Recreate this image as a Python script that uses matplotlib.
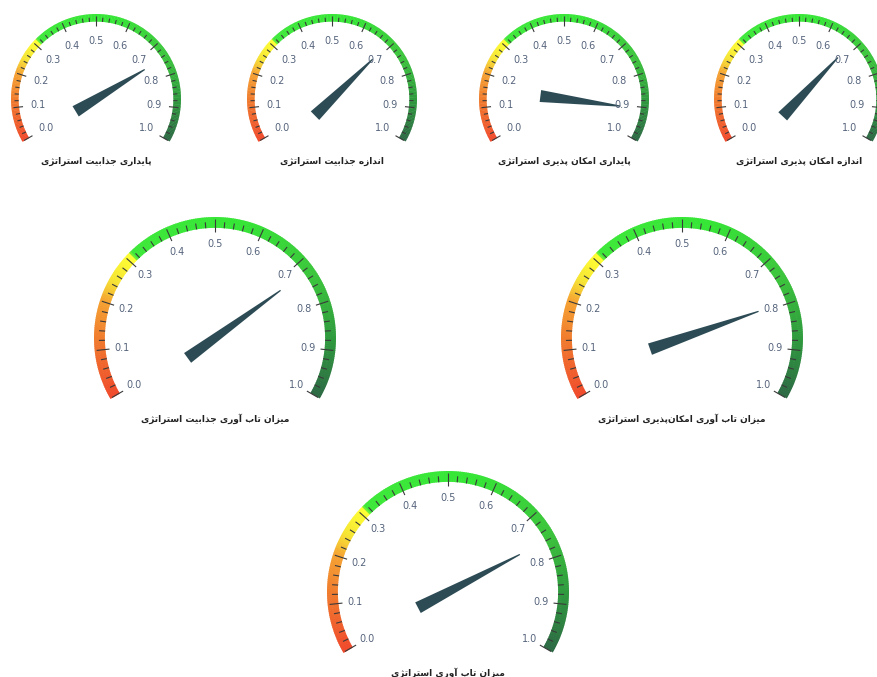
import numpy as np
import matplotlib
matplotlib.use("Agg")
import matplotlib.pyplot as plt
from matplotlib.patches import Wedge, Polygon
from matplotlib.colors import LinearSegmentedColormap

# Gauge data
titles = [
    "پایداری جذابیت استراتژی",
    "اندازه جذابیت استراتژی",
    "پایداری امکان پذیری استراتژی",
    "اندازه امکان پذیری استراتژی",
    "میزان تاب آوری جذابیت استراتژی",
    "میزان تاب آوری امکان\u200cپذیری استراتژی",
    "میزان تاب آوری استراتژی",
]
values = [0.745, 0.69, 0.905, 0.68, 0.725, 0.795, 0.76]
tick_values = [0.0, 0.1, 0.2, 0.3, 0.4, 0.5, 0.6, 0.7, 0.8, 0.9, 1.0]

# layout in pixels (x, y from top, outer radius)
W, H = 878, 677
layout = [
    (96, 99, 85), (332, 99, 85), (564, 99, 85), (799, 99, 85),
    (215, 338, 121), (682, 338, 121),
    (448, 592, 121),
]

# Persian letter shaping (matplotlib has no text shaping)
forms = {
    "ا": (0xFE8D, 0xFE8E, None, None),
    "آ": (0xFE81, 0xFE82, None, None),
    "ب": (0xFE8F, 0xFE90, 0xFE91, 0xFE92),
    "پ": (0xFB56, 0xFB57, 0xFB58, 0xFB59),
    "ت": (0xFE95, 0xFE96, 0xFE97, 0xFE98),
    "ج": (0xFE9D, 0xFE9E, 0xFE9F, 0xFEA0),
    "د": (0xFEA9, 0xFEAA, None, None),
    "ذ": (0xFEAB, 0xFEAC, None, None),
    "ر": (0xFEAD, 0xFEAE, None, None),
    "ز": (0xFEAF, 0xFEB0, None, None),
    "ژ": (0xFB8A, 0xFB8B, None, None),
    "س": (0xFEB1, 0xFEB2, 0xFEB3, 0xFEB4),
    "ک": (0xFB8E, 0xFB8F, 0xFB90, 0xFB91),
    "م": (0xFEE1, 0xFEE2, 0xFEE3, 0xFEE4),
    "ن": (0xFEE5, 0xFEE6, 0xFEE7, 0xFEE8),
    "ه": (0xFEE9, 0xFEEA, 0xFEEB, 0xFEEC),
    "و": (0xFEED, 0xFEEE, None, None),
    "ی": (0xFBFC, 0xFBFD, 0xFBFE, 0xFBFF),
}


def shape(s):
    out = []
    for i, c in enumerate(s):
        if c not in forms:
            out.append(c)
            continue
        prev = s[i - 1] if i > 0 else ""
        nxt = s[i + 1] if i + 1 < len(s) else ""
        jp = prev in forms and forms[prev][2] is not None
        jn = forms[c][2] is not None and nxt in forms
        if jp and jn:
            k = 3
        elif jp:
            k = 1
        elif jn:
            k = 2
        else:
            k = 0
        out.append(chr(forms[c][k]))
    return "".join(out).replace("\u200c", "")[::-1]


cmap = LinearSegmentedColormap.from_list("gauge", [
    (0.0, "#f04a2c"), (0.12, "#f07a2e"), (0.2, "#f5a232"),
    (0.25, "#f6e634"), (0.31, "#ffff33"), (0.315, "#3ee83a"),
    (0.55, "#36e636"), (0.75, "#3cc43c"), (0.88, "#2f9a3e"),
    (1.0, "#2d6a44"),
])


def ang(v):
    return np.deg2rad(210 - 240 * v)


fig = plt.figure(figsize=(W / 100, H / 100), dpi=100)
ax = fig.add_axes([0, 0, 1, 1])
ax.set_xlim(0, W)
ax.set_ylim(0, H)
ax.set_aspect("equal")
ax.axis("off")

for title, val, (cx, cy_top, r) in zip(titles, values, layout):
    cy = H - cy_top
    bw = 0.09 * r
    # colored band
    n = 240
    edges = np.linspace(0, 1, n + 1)
    for a, b in zip(edges[:-1], edges[1:]):
        ax.add_patch(Wedge((cx, cy), r, 210 - 240 * b, 210 - 240 * a + 0.3,
                           width=bw, color=cmap((a + b) / 2), lw=0))
    # ticks
    for t in np.linspace(0, 1, 51):
        th = ang(t)
        major = abs(t * 10 - round(t * 10)) < 1e-6
        r0, r1 = (r - 2, r - bw - 4) if major else (r - bw * 0.45, r - bw)
        ax.plot([cx + r0 * np.cos(th), cx + r1 * np.cos(th)],
                [cy + r0 * np.sin(th), cy + r1 * np.sin(th)],
                color="#3a3a3a", lw=0.8, solid_capstyle="butt")
    for t in tick_values:
        th = ang(t)
        rl = r - 27
        ax.text(cx + rl * np.cos(th), cy + rl * np.sin(th), f"{t:.1f}",
                ha="center", va="center", fontsize=7, color="#56647c")
    # needle
    th = ang(val)
    d = np.array([np.cos(th), np.sin(th)])
    p = np.array([-d[1], d[0]])
    c = np.array([cx, cy])
    back = c - 0.28 * r * d
    tip = c + 0.67 * r * d
    hw = 6.0
    ax.add_patch(Polygon([back + hw * p, tip + 0.6 * p, tip - 0.6 * p, back - hw * p],
                         closed=True, color="#2d4b55", lw=0))
    # title
    ax.text(cx, cy - (17 + 0.53 * r), shape(title), ha="center", va="center",
            fontsize=6.5, fontweight="bold", color="#222222")

fig.savefig("out.png", dpi=100)
